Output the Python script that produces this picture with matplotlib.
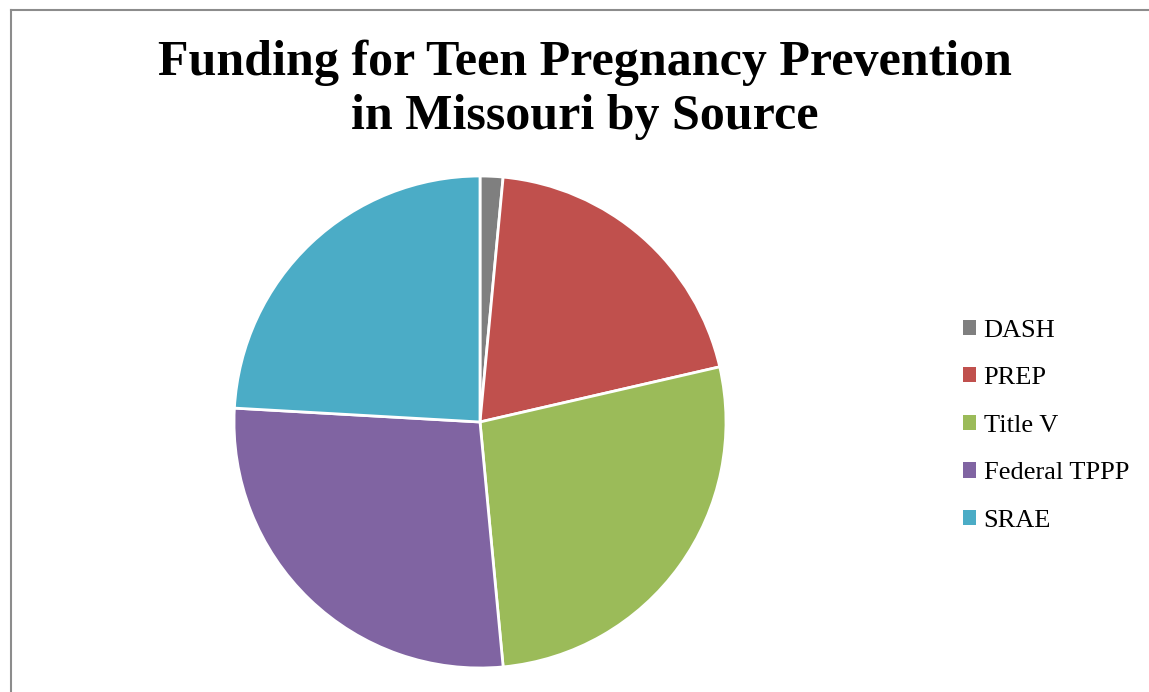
import matplotlib.pyplot as plt
from matplotlib.lines import Line2D
from matplotlib.patches import Patch

plt.rcParams['font.family'] = ['Liberation Serif', 'DejaVu Serif']

# funding share by source (%)
sources = ['DASH', 'PREP', 'Title V', 'Federal TPPP', 'SRAE']
shares = [1.5, 19.9, 27.1, 27.4, 24.1]
colors = ['#7f7f7f', '#c0504d', '#9bbb59', '#8064a2', '#4bacc6']

W, H = 1149, 692
fig = plt.figure(figsize=(W / 100, H / 100), dpi=100)

# pie axes: centre (480, 422) px, radius 245 px
cx, cy, r = 480, 422, 246
ax = fig.add_axes([(cx - r) / W, (H - cy - r) / H, 2 * r / W, 2 * r / H])
ax.pie(shares, colors=colors, startangle=90, counterclock=False, radius=1,
       wedgeprops=dict(edgecolor='white', linewidth=2))
ax.set_xlim(-1.0, 1.0)
ax.set_ylim(-1.0, 1.0)
ax.set_aspect('equal')
ax.axis('off')

fig.text(0.509, 1 - 90 / H, 'Funding for Teen Pregnancy Prevention\nin Missouri by Source',
         ha='center', va='center', fontsize=36, fontweight='bold', linespacing=1.22)

handles = [Patch(facecolor=c, edgecolor='none') for c in colors]
fig.legend(handles, sources, loc='upper left', bbox_to_anchor=(952 / W, 1 - 309 / H),
           frameon=False, fontsize=19, handlelength=0.5, handleheight=0.5,
           handletextpad=0.3, labelspacing=0.97, borderaxespad=0)

# chart area border (top and left visible)
fig.add_artist(Line2D([11 / W, 11 / W], [0, 1 - 10 / H], color='#8c8c8c', lw=1.5))
fig.add_artist(Line2D([11 / W, 1], [1 - 10 / H, 1 - 10 / H], color='#8c8c8c', lw=1.5))

fig.savefig('out.png', dpi=100)
